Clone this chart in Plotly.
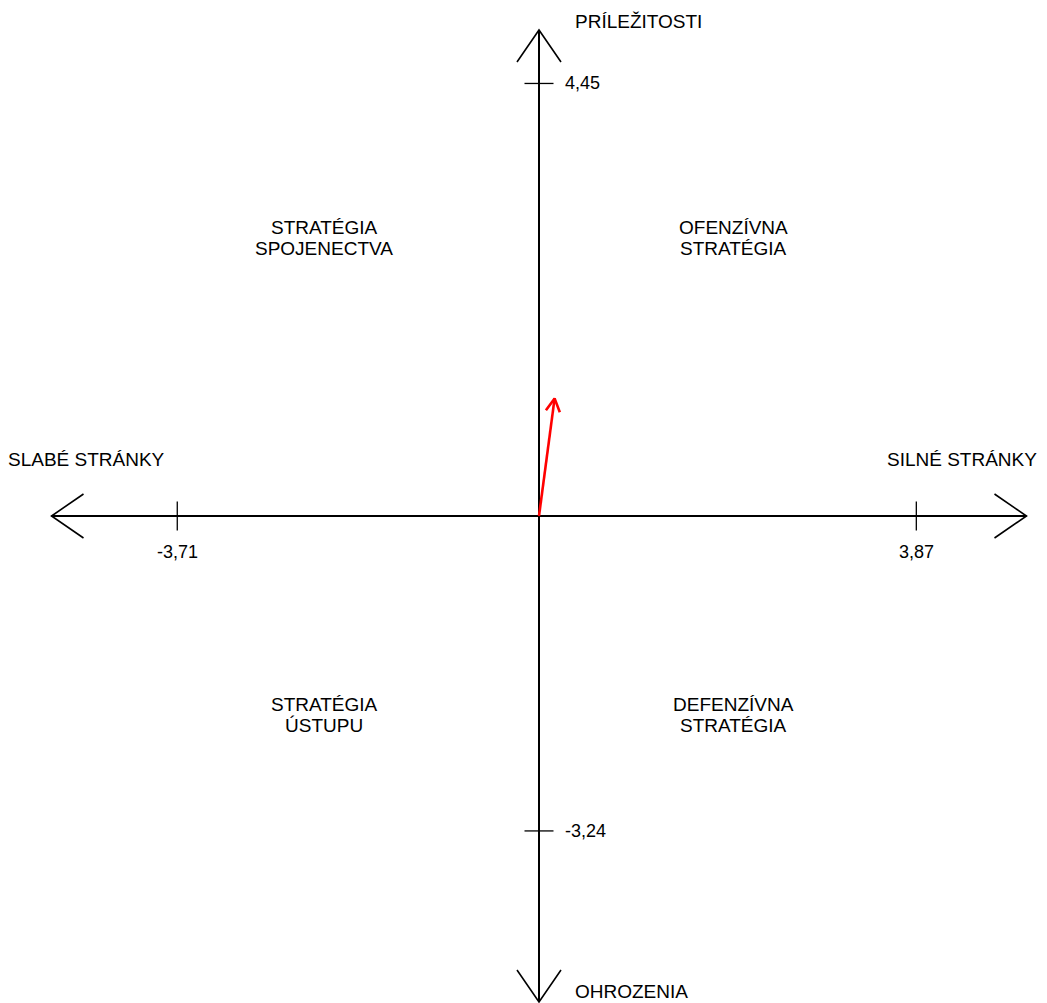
import numpy as np
import plotly.graph_objects as go

# SWOT totals
strengths = 3.87       # silne stranky
weaknesses = -3.71     # slabe stranky
opportunities = 4.45   # prilezitosti
threats = -3.24        # ohrozenia
axis_limit = 5

tick_text = {"s": "3,87", "w": "-3,71", "o": "4,45", "t": "-3,24"}
axis_names = ["SILNÉ STRÁNKY", "SLABÉ STRÁNKY", "PRÍLEŽITOSTI", "OHROZENIA"]
quadrants = [["OFENZÍVNA", "STRATÉGIA"], ["STRATÉGIA", "SPOJENECTVA"],
             ["STRATÉGIA", "ÚSTUPU"], ["DEFENZÍVNA", "STRATÉGIA"]]

vec_x = strengths + weaknesses
vec_y = opportunities + threats

W, H = 1047, 1003
px_x = 97.5   # pixels per unit
px_y = 97.2
x0_px, y0_px = 539, 516
x_range = [-x0_px / px_x, (W - x0_px) / px_x]
y_range = [-(H - y0_px) / px_y, y0_px / px_y]

FONT = "Liberation Sans, Arial, sans-serif"

fig = go.Figure()


def line(xs, ys, color="black", width=2):
    fig.add_trace(go.Scatter(x=xs, y=ys, mode="lines", hoverinfo="skip",
                             line=dict(color=color, width=width), showlegend=False))


def open_head(x1, y1, x0, y0, length, half, color="black", width=1.6):
    # V shaped head at (x1, y1) pointing away from (x0, y0); sizes in pixels
    dx = (x1 - x0) * px_x
    dy = (y1 - y0) * px_y
    n = np.hypot(dx, dy)
    ux, uy = dx / n, dy / n
    px_, py_ = -uy, ux
    a = (x1 + (-ux * length + px_ * half) / px_x, y1 + (-uy * length + py_ * half) / px_y)
    b = (x1 + (-ux * length - px_ * half) / px_x, y1 + (-uy * length - py_ * half) / px_y)
    line([a[0], x1, b[0]], [a[1], y1, b[1]], color=color, width=width)


# main axes
line([-axis_limit, axis_limit], [0, 0])
line([0, 0], [-axis_limit, axis_limit])
open_head(axis_limit, 0, 0, 0, 32, 22)
open_head(-axis_limit, 0, 0, 0, 32, 22)
open_head(0, axis_limit, 0, 0, 32, 22)
open_head(0, -axis_limit, 0, 0, 32, 22)

# ticks
t = 14.5
for xv in [strengths, weaknesses]:
    line([xv, xv], [-t / px_y, t / px_y], width=1.3)
for yv in [opportunities, threats]:
    line([-t / px_x, t / px_x], [yv, yv], width=1.3)

# resulting vector
line([0, vec_x], [0, vec_y], color="#ff0000", width=2.6)
open_head(vec_x, vec_y, 0, 0, 13, 7, color="#ff0000", width=2.6)

ann = []
def txt(x, y, s, xanchor="center", size=19):
    ann.append(dict(x=x, y=y, text=s, showarrow=False, xanchor=xanchor, yanchor="middle",
                    font=dict(family=FONT, size=size, color="black")))

off = 24 / px_x
txt(strengths, -36 / px_y, tick_text["s"], size=18)
txt(weaknesses, -36 / px_y, tick_text["w"], size=18)
txt(off, opportunities, tick_text["o"], xanchor="left", size=18)
txt(off, threats, tick_text["t"], xanchor="left", size=18)

txt(5.13, 0.585, axis_names[0], xanchor="right")
txt(-5.47, 0.585, axis_names[1], xanchor="left")
txt(34 / px_x, 5.09, axis_names[2], xanchor="left")
txt(34 / px_x, -4.89, axis_names[3], xanchor="left")

qx = [1.99, -2.205, -2.205, 1.99]
qy = [[2.965, 2.75], [2.965, 2.75], [-1.94, -2.155], [-1.94, -2.155]]
for lines, x, ys in zip(quadrants, qx, qy):
    for s, y in zip(lines, ys):
        txt(x, y, s)

fig.update_layout(
    width=W, height=H,
    margin=dict(l=0, r=0, t=0, b=0),
    paper_bgcolor="white", plot_bgcolor="white",
    annotations=ann,
    xaxis=dict(range=x_range, visible=False, fixedrange=True),
    yaxis=dict(range=y_range, visible=False, fixedrange=True),
)

fig.write_html("out.html", config={"displayModeBar": False},
               post_script="document.body.style.margin='0';document.body.style.overflow='hidden';")
